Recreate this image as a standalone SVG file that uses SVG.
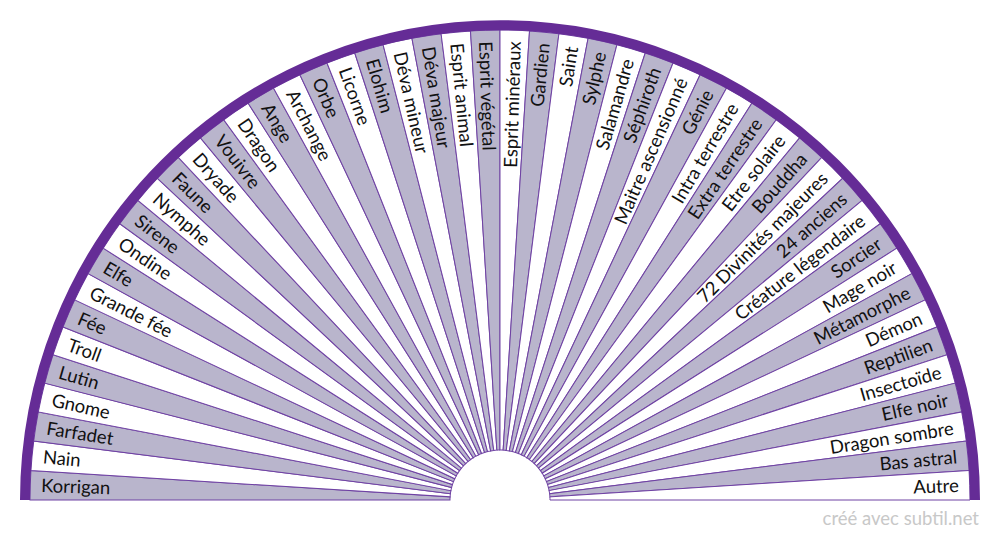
<svg xmlns="http://www.w3.org/2000/svg" xmlns:xlink="http://www.w3.org/1999/xlink" width="1000" height="540" viewBox="0 0 1000 540">
<style>
.g{fill:#b9b5cc}
.w{fill:#ffffff}
.s{stroke:#6f42a3;stroke-width:1}
text{font-family:Lato,"Liberation Sans",sans-serif;font-size:18.5px;fill:#111}
.l{text-anchor:start}
.r{text-anchor:end}
.foot{font-size:18.5px;fill:#c8c8c8;text-anchor:end}
</style>
<defs>
<path id="wedge" d="M550,500 L970,500 A470,470 0 0 0 969.073,470.488 L549.901,496.860 A50,50 0 0 1 550,500 Z"/>
</defs>
<rect width="1000" height="540" fill="#fff"/>
<g id="n1"><use xlink:href="#wedge" class="g s" transform="rotate(-176.4 500 500)"/><text class="l" x="41" y="500" dy="0.35em" transform="rotate(1.8 500 500)">Korrigan</text></g>
<g id="n2"><use xlink:href="#wedge" class="w s" transform="rotate(-172.8 500 500)"/><text class="l" x="41" y="500" dy="0.35em" transform="rotate(5.4 500 500)">Nain</text></g>
<g id="n3"><use xlink:href="#wedge" class="g s" transform="rotate(-169.2 500 500)"/><text class="l" x="41" y="500" dy="0.35em" transform="rotate(9 500 500)">Farfadet</text></g>
<g id="n4"><use xlink:href="#wedge" class="w s" transform="rotate(-165.6 500 500)"/><text class="l" x="41" y="500" dy="0.35em" transform="rotate(12.6 500 500)">Gnome</text></g>
<g id="n5"><use xlink:href="#wedge" class="g s" transform="rotate(-162 500 500)"/><text class="l" x="41" y="500" dy="0.35em" transform="rotate(16.2 500 500)">Lutin</text></g>
<g id="n6"><use xlink:href="#wedge" class="w s" transform="rotate(-158.4 500 500)"/><text class="l" x="41" y="500" dy="0.35em" transform="rotate(19.8 500 500)">Troll</text></g>
<g id="n7"><use xlink:href="#wedge" class="g s" transform="rotate(-154.8 500 500)"/><text class="l" x="41" y="500" dy="0.35em" transform="rotate(23.4 500 500)">Fée</text></g>
<g id="n8"><use xlink:href="#wedge" class="w s" transform="rotate(-151.2 500 500)"/><text class="l" x="41" y="500" dy="0.35em" transform="rotate(27 500 500)">Grande fée</text></g>
<g id="n9"><use xlink:href="#wedge" class="g s" transform="rotate(-147.6 500 500)"/><text class="l" x="41" y="500" dy="0.35em" transform="rotate(30.6 500 500)">Elfe</text></g>
<g id="n10"><use xlink:href="#wedge" class="w s" transform="rotate(-144 500 500)"/><text class="l" x="41" y="500" dy="0.35em" transform="rotate(34.2 500 500)">Ondine</text></g>
<g id="n11"><use xlink:href="#wedge" class="g s" transform="rotate(-140.4 500 500)"/><text class="l" x="41" y="500" dy="0.35em" transform="rotate(37.8 500 500)">Sirene</text></g>
<g id="n12"><use xlink:href="#wedge" class="w s" transform="rotate(-136.8 500 500)"/><text class="l" x="41" y="500" dy="0.35em" transform="rotate(41.4 500 500)">Nymphe</text></g>
<g id="n13"><use xlink:href="#wedge" class="g s" transform="rotate(-133.2 500 500)"/><text class="l" x="41" y="500" dy="0.35em" transform="rotate(45 500 500)">Faune</text></g>
<g id="n14"><use xlink:href="#wedge" class="w s" transform="rotate(-129.6 500 500)"/><text class="l" x="41" y="500" dy="0.35em" transform="rotate(48.6 500 500)">Dryade</text></g>
<g id="n15"><use xlink:href="#wedge" class="g s" transform="rotate(-126 500 500)"/><text class="l" x="41" y="500" dy="0.35em" transform="rotate(52.2 500 500)">Vouivre</text></g>
<g id="n16"><use xlink:href="#wedge" class="w s" transform="rotate(-122.4 500 500)"/><text class="l" x="41" y="500" dy="0.35em" transform="rotate(55.8 500 500)">Dragon</text></g>
<g id="n17"><use xlink:href="#wedge" class="g s" transform="rotate(-118.8 500 500)"/><text class="l" x="41" y="500" dy="0.35em" transform="rotate(59.4 500 500)">Ange</text></g>
<g id="n18"><use xlink:href="#wedge" class="w s" transform="rotate(-115.2 500 500)"/><text class="l" x="41" y="500" dy="0.35em" transform="rotate(63 500 500)">Archange</text></g>
<g id="n19"><use xlink:href="#wedge" class="g s" transform="rotate(-111.6 500 500)"/><text class="l" x="41" y="500" dy="0.35em" transform="rotate(66.6 500 500)">Orbe</text></g>
<g id="n20"><use xlink:href="#wedge" class="w s" transform="rotate(-108 500 500)"/><text class="l" x="41" y="500" dy="0.35em" transform="rotate(70.2 500 500)">Licorne</text></g>
<g id="n21"><use xlink:href="#wedge" class="g s" transform="rotate(-104.4 500 500)"/><text class="l" x="41" y="500" dy="0.35em" transform="rotate(73.8 500 500)">Elohim</text></g>
<g id="n22"><use xlink:href="#wedge" class="w s" transform="rotate(-100.8 500 500)"/><text class="l" x="41" y="500" dy="0.35em" transform="rotate(77.4 500 500)">Déva mineur</text></g>
<g id="n23"><use xlink:href="#wedge" class="g s" transform="rotate(-97.2 500 500)"/><text class="l" x="41" y="500" dy="0.35em" transform="rotate(81 500 500)">Déva majeur</text></g>
<g id="n24"><use xlink:href="#wedge" class="w s" transform="rotate(-93.6 500 500)"/><text class="l" x="41" y="500" dy="0.35em" transform="rotate(84.6 500 500)">Esprit animal</text></g>
<g id="n25"><use xlink:href="#wedge" class="g s" transform="rotate(-90 500 500)"/><text class="l" x="41" y="500" dy="0.35em" transform="rotate(88.2 500 500)">Esprit végétal</text></g>
<g id="n26"><use xlink:href="#wedge" class="w s" transform="rotate(-86.4 500 500)"/><text class="r" x="959" y="500" dy="0.35em" transform="rotate(-88.2 500 500)">Esprit minéraux</text></g>
<g id="n27"><use xlink:href="#wedge" class="g s" transform="rotate(-82.8 500 500)"/><text class="r" x="959" y="500" dy="0.35em" transform="rotate(-84.6 500 500)">Gardien</text></g>
<g id="n28"><use xlink:href="#wedge" class="w s" transform="rotate(-79.2 500 500)"/><text class="r" x="959" y="500" dy="0.35em" transform="rotate(-81 500 500)">Saint</text></g>
<g id="n29"><use xlink:href="#wedge" class="g s" transform="rotate(-75.6 500 500)"/><text class="r" x="959" y="500" dy="0.35em" transform="rotate(-77.4 500 500)">Sylphe</text></g>
<g id="n30"><use xlink:href="#wedge" class="w s" transform="rotate(-72 500 500)"/><text class="r" x="959" y="500" dy="0.35em" transform="rotate(-73.8 500 500)">Salamandre</text></g>
<g id="n31"><use xlink:href="#wedge" class="g s" transform="rotate(-68.4 500 500)"/><text class="r" x="959" y="500" dy="0.35em" transform="rotate(-70.2 500 500)">Séphiroth</text></g>
<g id="n32"><use xlink:href="#wedge" class="w s" transform="rotate(-64.8 500 500)"/><text class="r" x="959" y="500" dy="0.35em" transform="rotate(-66.6 500 500)">Maitre ascensionné</text></g>
<g id="n33"><use xlink:href="#wedge" class="g s" transform="rotate(-61.2 500 500)"/><text class="r" x="959" y="500" dy="0.35em" transform="rotate(-63 500 500)">Génie</text></g>
<g id="n34"><use xlink:href="#wedge" class="w s" transform="rotate(-57.6 500 500)"/><text class="r" x="959" y="500" dy="0.35em" transform="rotate(-59.4 500 500)">Intra terrestre</text></g>
<g id="n35"><use xlink:href="#wedge" class="g s" transform="rotate(-54 500 500)"/><text class="r" x="959" y="500" dy="0.35em" transform="rotate(-55.8 500 500)">Extra terrestre</text></g>
<g id="n36"><use xlink:href="#wedge" class="w s" transform="rotate(-50.4 500 500)"/><text class="r" x="959" y="500" dy="0.35em" transform="rotate(-52.2 500 500)">Etre solaire</text></g>
<g id="n37"><use xlink:href="#wedge" class="g s" transform="rotate(-46.8 500 500)"/><text class="r" x="959" y="500" dy="0.35em" transform="rotate(-48.6 500 500)">Bouddha</text></g>
<g id="n38"><use xlink:href="#wedge" class="w s" transform="rotate(-43.2 500 500)"/><text class="r" x="959" y="500" dy="0.35em" transform="rotate(-45 500 500)">72 Divinités majeures</text></g>
<g id="n39"><use xlink:href="#wedge" class="g s" transform="rotate(-39.6 500 500)"/><text class="r" x="959" y="500" dy="0.35em" transform="rotate(-41.4 500 500)">24 anciens</text></g>
<g id="n40"><use xlink:href="#wedge" class="w s" transform="rotate(-36 500 500)"/><text class="r" x="959" y="500" dy="0.35em" transform="rotate(-37.8 500 500)">Créature légendaire</text></g>
<g id="n41"><use xlink:href="#wedge" class="g s" transform="rotate(-32.4 500 500)"/><text class="r" x="959" y="500" dy="0.35em" transform="rotate(-34.2 500 500)">Sorcier</text></g>
<g id="n42"><use xlink:href="#wedge" class="w s" transform="rotate(-28.8 500 500)"/><text class="r" x="959" y="500" dy="0.35em" transform="rotate(-30.6 500 500)">Mage noir</text></g>
<g id="n43"><use xlink:href="#wedge" class="g s" transform="rotate(-25.2 500 500)"/><text class="r" x="959" y="500" dy="0.35em" transform="rotate(-27 500 500)">Métamorphe</text></g>
<g id="n44"><use xlink:href="#wedge" class="w s" transform="rotate(-21.6 500 500)"/><text class="r" x="959" y="500" dy="0.35em" transform="rotate(-23.4 500 500)">Démon</text></g>
<g id="n45"><use xlink:href="#wedge" class="g s" transform="rotate(-18 500 500)"/><text class="r" x="959" y="500" dy="0.35em" transform="rotate(-19.8 500 500)">Reptilien</text></g>
<g id="n46"><use xlink:href="#wedge" class="w s" transform="rotate(-14.4 500 500)"/><text class="r" x="959" y="500" dy="0.35em" transform="rotate(-16.2 500 500)">Insectoïde</text></g>
<g id="n47"><use xlink:href="#wedge" class="g s" transform="rotate(-10.8 500 500)"/><text class="r" x="959" y="500" dy="0.35em" transform="rotate(-12.6 500 500)">Elfe noir</text></g>
<g id="n48"><use xlink:href="#wedge" class="w s" transform="rotate(-7.2 500 500)"/><text class="r" x="959" y="500" dy="0.35em" transform="rotate(-9 500 500)">Dragon sombre</text></g>
<g id="n49"><use xlink:href="#wedge" class="g s" transform="rotate(-3.6 500 500)"/><text class="r" x="959" y="500" dy="0.35em" transform="rotate(-5.4 500 500)">Bas astral</text></g>
<g id="n50"><use xlink:href="#wedge" class="w s" transform="rotate(0 500 500)"/><text class="r" x="959" y="500" dy="0.35em" transform="rotate(-1.8 500 500)">Autre</text></g>
<g id="rim"><path d="M25,500 A475,475 0 0 1 975,500" fill="none" stroke="#652c96" stroke-width="10"/></g>
<text class="foot" x="979" y="525">créé avec subtil.net</text>
</svg>
